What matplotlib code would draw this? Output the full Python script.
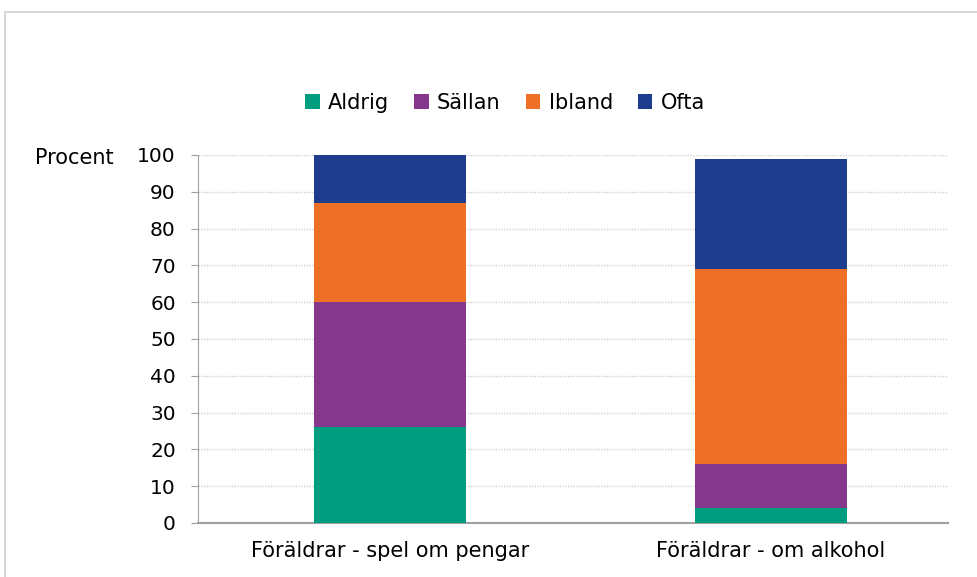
import matplotlib.pyplot as plt
import matplotlib.patches as mpatches
import numpy as np

# Data
categories = ["Föräldrar - spel om pengar", "Föräldrar - om alkohol"]
series = ["Aldrig", "Sällan", "Ibland", "Ofta"]
aldrig = [26, 4]
sallan = [34, 12]
ibland = [27, 53]
ofta = [13, 30]
colors = ["#009E7E", "#84378B", "#ED7026", "#1F3D8F"]
yticks = list(range(0, 101, 10))

W, H = 978, 577
fig = plt.figure(figsize=(W / 100, H / 100), dpi=100)

# Outer frame (light grey), right and bottom edges fall outside the image
fig.patches.append(mpatches.Rectangle((5 / W, -0.05), 1.1, 1.05 - 12 / H, transform=fig.transFigure,
                                      fill=False, edgecolor="#D0D0D0", linewidth=1.2))

# Axes placement in pixels
left, right, bottom, top = 198, 948, 523, 155
ax = fig.add_axes([left / W, 1 - bottom / H, (right - left) / W, (bottom - top) / H])

x = np.arange(len(categories))
values = [aldrig, sallan, ibland, ofta]
base = np.zeros(len(categories))
handles = []
for name, vals, col in zip(series, values, colors):
    b = ax.bar(x, vals, width=0.4, bottom=base, color=col, label=name, zorder=3,
               edgecolor="none")
    handles.append(b)
    base = base + np.array(vals)

ax.set_xlim(-0.504, 1.465)
ax.set_ylim(0, 100)
ax.set_yticks(yticks)
ax.set_xticks(x)
ax.set_xticklabels(categories, fontsize=15)
ax.tick_params(axis="y", labelsize=14.5, length=5, color="#A0A0A0", pad=11)
ax.tick_params(axis="x", length=0, pad=13)

ax.grid(axis="y", color="#D0D0D0", linestyle=(0, (1, 1)), linewidth=1, zorder=0)
for s in ["top", "right"]:
    ax.spines[s].set_visible(False)
ax.spines["left"].set_color("#A0A0A0")
ax.spines["bottom"].set_color("#A0A0A0")
ax.spines["bottom"].set_linewidth(1.5)

fig.text(35 / W, 1 - 158 / H, "Procent", fontsize=15, va="center", ha="left")

fig.legend(handles=handles, labels=series, loc="center", bbox_to_anchor=(505 / W, 1 - 103 / H),
           ncol=4, frameon=False, fontsize=15, handlelength=0.7, handleheight=0.7,
           handletextpad=0.4, columnspacing=1.2)

fig.savefig("out.png", dpi=100)
